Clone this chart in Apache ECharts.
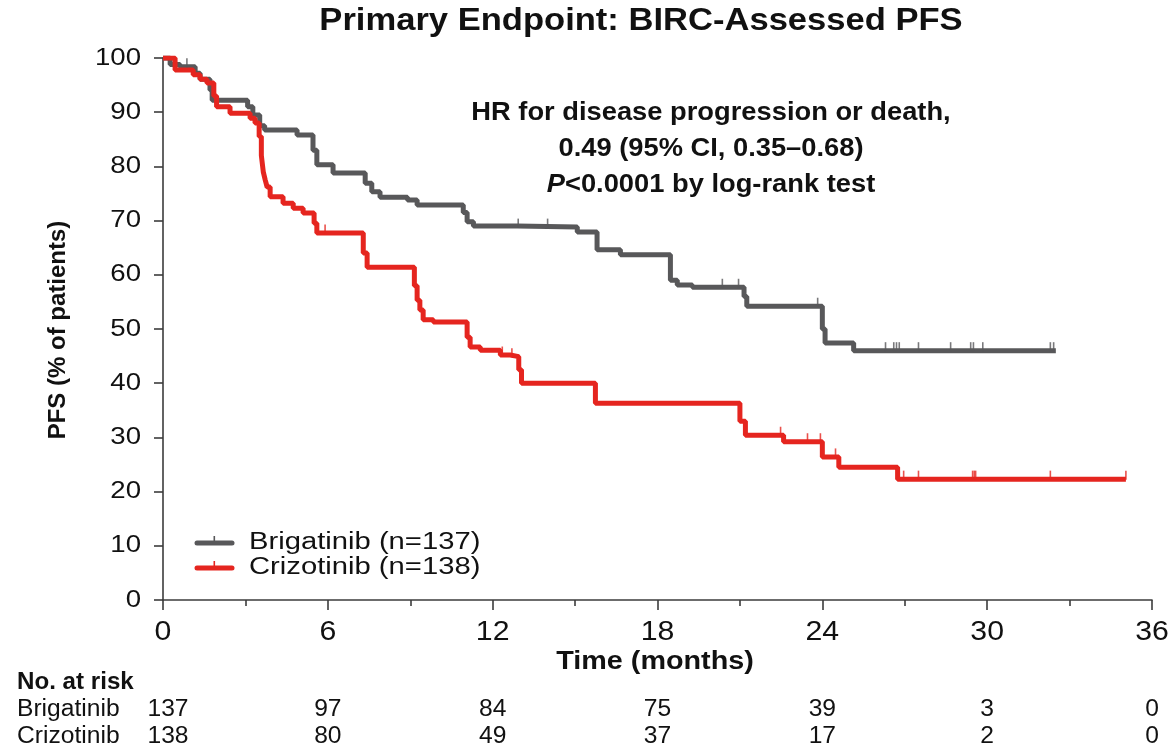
<!DOCTYPE html>
<html>
<head>
<meta charset="utf-8">
<title>Primary Endpoint: BIRC-Assessed PFS</title>
<script src="https://cdn.jsdelivr.net/npm/echarts@6/dist/echarts.min.js"></script>
<style>
  html, body { margin: 0; padding: 0; background: #ffffff; }
  #chart { width: 1170px; height: 749px; }
</style>
</head>
<body>
<div id="chart"></div>
<script>
// ---- data -------------------------------------------------------------
const xTicks = [0, 6, 12, 18, 24, 30, 36];
const yTicks = [0, 10, 20, 30, 40, 50, 60, 70, 80, 90, 100];

// Kaplan-Meier steps: month of each event and PFS (%) after it
const brigTime = [0, 0.26, 0.62, 1.17, 1.35, 1.71, 1.79, 3.08, 3.27, 3.52, 3.7, 4.88, 5.46, 5.6, 6.19,
  7.36, 7.6, 7.9, 8.9, 9.25, 10.93, 11.07, 11.3, 12.9, 15.08, 15.8, 16.65, 18.47, 18.72, 19.27,
  21.15, 21.25, 24.0, 24.1, 25.14, 32.5];
const brigPfs = [100, 98.8, 98.4, 97.2, 96.1, 94.1, 92.2, 91, 89.5, 87.5, 86.7, 85.8, 83, 80.3, 78.8,
  76.9, 75.3, 74.3, 73.8, 72.9, 71.5, 69.8, 69, 68.8, 67.9, 64.6, 63.7, 59, 58.1, 57.7,
  56, 54.2, 50, 47.4, 46, 46];
const brigCensor = [0.87, 12.93, 14.0, 20.36, 20.95, 23.83, 26.3, 26.6, 26.7, 26.8, 27.5, 28.67,
  29.4, 29.5, 29.84, 32.3, 32.42];

const crizTime = [0, 0.44, 1.1, 1.35, 1.6, 1.85, 1.95, 2.44, 3.17, 3.35, 3.5, 3.58, 3.65, 3.72, 3.79,
  3.9, 4.37, 4.74, 5.1, 5.5, 5.6, 7.29, 7.43, 9.15, 9.25, 9.35, 9.47, 9.84, 11.07, 11.18, 11.55,
  12.28, 12.64, 12.95, 13.05, 15.74, 21.0, 21.2, 22.59, 24.0, 24.6, 26.74, 35.05];
const crizPfs = [100, 97.8, 96.9, 96.1, 95.4, 93, 91, 89.8, 88.9, 88, 85.5, 82, 79, 77.5, 76.2,
  74.4, 73.2, 72.3, 71.4, 69.5, 67.7, 64, 61.4, 58, 55.3, 53.5, 51.7, 51.3, 48.5, 46.7, 46.1,
  45.2, 44.9, 42.5, 40, 36.3, 33, 30.4, 29.2, 26.4, 24.5, 22.3, 22.3];
const crizCensor = [5.9, 12.35, 12.7, 22.48, 23.46, 23.93, 24.48, 26.8, 26.96, 27.5, 29.47, 29.53,
  29.58, 32.3, 35.05];

const armLabels = ['Brigatinib (n=137)', 'Crizotinib (n=138)'];
const riskArms = ['Brigatinib', 'Crizotinib'];
const riskBrig = [137, 97, 84, 75, 39, 3, 0];
const riskCriz = [138, 80, 49, 37, 17, 2, 0];

// ---- helpers ----------------------------------------------------------
const FONT = "'Liberation Sans', Arial, Helvetica, sans-serif";
const GRAY = '#58585a';
const RED = '#e5251f';
const INK = '#111111';
const AXIS = '#3c3c3c';

function pairs(ts, vs) { return ts.map((t, i) => [t, vs[i]]); }

// value of a step curve at month t
function stepValue(ts, vs, t) {
  let v = vs[0];
  for (let i = 0; i < ts.length; i++) { if (ts[i] <= t) v = vs[i]; }
  return v;
}

function text(x, y, str, o) {
  o = o || {};
  const size = o.size || 22;
  const weight = o.bold ? 'bold' : 'normal';
  const align = o.align || 'center';
  const va = o.va || 'middle';
  const el = {
    type: 'text',
    x: x, y: y,
    scaleX: o.sx || 1,
    rotation: o.rot || 0,
    silent: true,
    style: {
      text: str,
      fill: o.color || INK,
      fontSize: size,
      fontWeight: weight,
      fontFamily: FONT,
      align: align, verticalAlign: va,
      textAlign: align, textVerticalAlign: va
    }
  };
  if (o.rich) el.style.rich = o.rich;
  return el;
}

// ---- chart ------------------------------------------------------------
const chart = echarts.init(document.getElementById('chart'), null, { renderer: 'canvas' });

const axisLineStyle = { color: AXIS, width: 1.6 };

chart.setOption({
  animation: false,
  backgroundColor: '#ffffff',
  grid: { left: 163, right: 18, top: 58, bottom: 149, containLabel: false },
  xAxis: {
    type: 'value', min: 0, max: 36, interval: 6,
    axisLine: { show: true, onZero: true, lineStyle: axisLineStyle },
    axisTick: { show: true, length: 10, lineStyle: axisLineStyle },
    minorTick: { show: true, splitNumber: 2, length: 6, lineStyle: axisLineStyle },
    axisLabel: { show: false },
    splitLine: { show: false },
    minorSplitLine: { show: false }
  },
  yAxis: {
    type: 'value', min: 0, max: 100, interval: 10,
    axisLine: { show: true, lineStyle: axisLineStyle },
    axisTick: { show: true, length: 9, lineStyle: axisLineStyle },
    axisLabel: { show: false },
    splitLine: { show: false }
  },
  series: [
    {
      name: armLabels[0], type: 'line', step: 'end', showSymbol: false,
      data: pairs(brigTime, brigPfs),
      lineStyle: { color: GRAY, width: 5 }, itemStyle: { color: GRAY }, z: 2
    },
    {
      name: armLabels[1], type: 'line', step: 'end', showSymbol: false,
      data: pairs(crizTime, crizPfs),
      lineStyle: { color: RED, width: 5 }, itemStyle: { color: RED }, z: 3
    },
    {
      name: armLabels[0] + ' censored', type: 'scatter', symbol: 'rect',
      symbolSize: [1.6, 9], symbolOffset: [0, -4],
      data: brigCensor.map(t => [t, stepValue(brigTime, brigPfs, t)]),
      itemStyle: { color: GRAY }, z: 4
    },
    {
      name: armLabels[1] + ' censored', type: 'scatter', symbol: 'rect',
      symbolSize: [1.6, 9], symbolOffset: [0, -4],
      data: crizCensor.map(t => [t, stepValue(crizTime, crizPfs, t)]),
      itemStyle: { color: RED }, z: 5
    }
  ]
});

// ---- text & legend, placed through the axes -----------------------------
const gfx = [];
const px = v => chart.convertToPixel({ xAxisIndex: 0 }, v);
const py = v => chart.convertToPixel({ yAxisIndex: 0 }, v);
const axisLeft = px(0);
const axisBottom = py(0);

// title
gfx.push(text(641, 21, 'Primary Endpoint: BIRC-Assessed PFS', { size: 32, bold: true, sx: 1.08 }));

// hazard ratio annotation
const richP = { i: { fontStyle: 'italic', fontWeight: 'bold', fontSize: 26, fontFamily: FONT, color: INK } };
gfx.push(text(711, 113, 'HR for disease progression or death,', { size: 26, bold: true, sx: 1.05 }));
gfx.push(text(711, 149, '0.49 (95% CI, 0.35\u20130.68)', { size: 26, bold: true, sx: 1.05 }));
gfx.push(text(711, 185, '{i|P}<0.0001 by log-rank test', { size: 26, bold: true, sx: 1.05, rich: richP }));

// y tick labels
yTicks.forEach(v => gfx.push(text(axisLeft - 22, py(v), String(v), { size: 24, align: 'right', sx: 1.15 })));
// x tick labels
xTicks.forEach(v => gfx.push(text(px(v), axisBottom + 32, String(v), { size: 28, sx: 1.08 })));

// axis titles
gfx.push(text(58, 330, 'PFS (% of patients)', { size: 24, bold: true, rot: Math.PI / 2 }));
gfx.push(text(655, axisBottom + 62, 'Time (months)', { size: 25, bold: true, sx: 1.15 }));

// legend
[[GRAY, 543], [RED, 568]].forEach(([c, y], k) => {
  gfx.push({ type: 'line', silent: true, shape: { x1: 197, y1: y, x2: 232, y2: y },
    style: { stroke: c, lineWidth: 5, lineCap: 'round' } });
  gfx.push({ type: 'rect', silent: true, shape: { x: 213.5, y: y - 7, width: 1.6, height: 5 },
    style: { fill: c } });
  gfx.push(text(249, y, armLabels[k], { size: 23, align: 'left', sx: 1.27 }));
});

// number at risk table
gfx.push(text(17, 683, 'No. at risk', { size: 23, bold: true, align: 'left', sx: 1.05 }));
[[riskBrig, 710], [riskCriz, 737]].forEach(([row, y], k) => {
  gfx.push(text(17, y, riskArms[k], { size: 23, align: 'left', sx: 1.07 }));
  row.forEach((n, i) => gfx.push(text(px(xTicks[i]) + (i === 0 ? 5 : 0), y, String(n), { size: 23, sx: 1.07 })));
});

chart.setOption({ graphic: { elements: gfx } });
</script>
</body>
</html>
